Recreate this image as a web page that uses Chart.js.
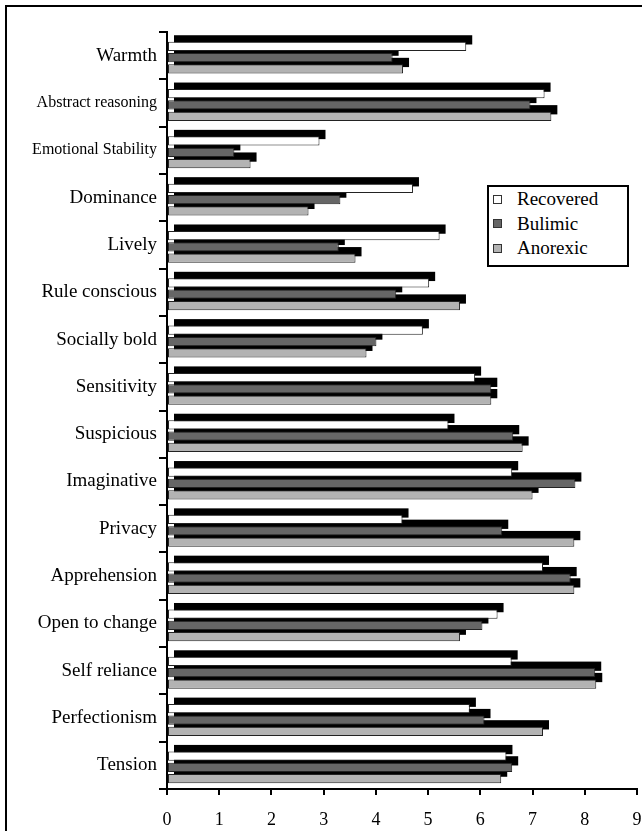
<!DOCTYPE html>
<html>
<head>
<meta charset="utf-8">
<script src="https://cdn.jsdelivr.net/npm/chart.js@4.4.1/dist/chart.umd.min.js"></script>
<style>
    html, body { margin: 0; padding: 0; background: #fff; overflow: hidden; }
    #wrap { position: relative; width: 642px; height: 831px; }
    #frame { position: absolute; left: 5px; top: 5px; width: 700px; height: 900px; border: 2px solid #000; box-sizing: border-box; }
    #traitChart { position: absolute; left: 0; top: 0; }
    #legend {
        position: absolute; left: 487px; top: 185px; width: 142px; height: 82px;
        box-sizing: border-box; border: 2px solid #000; background: #fff;
        font-family: "Liberation Serif", "Times New Roman", serif; font-size: 19px; color: #000;
    }
    #legend .row { height: 24.5px; line-height: 24.5px; display: flex; align-items: center; }
    #legend .box { width: 9px; height: 9px; box-sizing: border-box; border: 1px solid #333; margin-left: 4px; margin-right: 15px; }
</style>
</head>
<body>
<div id="wrap">
    <div id="frame"></div>
    <canvas id="traitChart" width="642" height="831"></canvas>
    <div id="legend"></div>
</div>
<script>
const traits = [
    "Warmth", "Abstract reasoning", "Emotional Stability", "Dominance", "Lively",
    "Rule conscious", "Socially bold", "Sensitivity", "Suspicious", "Imaginative",
    "Privacy", "Apprehension", "Open to change", "Self reliance", "Perfectionism", "Tension"
];

const recovered = [5.73, 7.23, 2.92, 4.71, 5.22, 5.02, 4.90, 5.90, 5.39, 6.61, 4.51, 7.20, 6.33, 6.60, 5.80, 6.50];
const bulimic   = [4.32, 6.96, 1.29, 3.32, 3.29, 4.39, 4.01, 6.21, 6.63, 7.82, 6.42, 7.73, 6.04, 8.20, 6.08, 6.61];
const anorexic  = [4.52, 7.36, 1.60, 2.71, 3.61, 5.61, 3.82, 6.21, 6.81, 7.00, 7.80, 7.80, 5.61, 8.22, 7.20, 6.40];

const xTicks = [0, 1, 2, 3, 4, 5, 6, 7, 8, 9];

const serif = "'Liberation Serif', 'Times New Roman', serif";

// black "depth" block behind every bar, taken from the bar elements themselves
const depthShadow = {
    id: 'depthShadow',
    beforeDatasetsDraw(chart) {
        chart.ctx.save();
        chart.ctx.translate(0, 2);
    },
    beforeDatasetDraw(chart, args) {
        const ctx = chart.ctx;
        ctx.save();
        ctx.fillStyle = '#000';
        args.meta.data.forEach(bar => {
            const p = bar.getProps(['x', 'y', 'base', 'height'], true);
            ctx.fillRect(p.base + 6, p.y - p.height / 2 - 6.5, p.x - p.base, p.height);
        });
        ctx.restore();
    },
    afterDatasetsDraw(chart) {
        chart.ctx.restore();
    }
};

const chart = new Chart(document.getElementById('traitChart'), {
    type: 'bar',
    data: {
        labels: traits,
        datasets: [
            { label: 'Recovered', data: recovered, backgroundColor: '#ffffff' },
            { label: 'Bulimic', data: bulimic, backgroundColor: '#666666' },
            { label: 'Anorexic', data: anorexic, backgroundColor: '#b3b3b3' }
        ]
    },
    options: {
        indexAxis: 'y',
        responsive: false,
        animation: false,
        layout: { padding: { left: 0, top: 32, right: 5, bottom: 0 } },
        datasets: {
            bar: {
                categoryPercentage: 0.716,
                barPercentage: 0.82,
                borderWidth: 1,
                borderColor: '#222',
                borderSkipped: false
            }
        },
        plugins: {
            legend: { display: false },
            tooltip: { enabled: false }
        },
        scales: {
            x: {
                min: 0,
                max: 9,
                afterBuildTicks: scale => { scale.ticks = xTicks.map(v => ({ value: v })); },
                afterFit: scale => { scale.height = 42; scale.paddingLeft = 0; scale.paddingRight = 0; },
                grid: { drawOnChartArea: false, tickLength: 6, color: '#000', lineWidth: 2 },
                border: { color: '#000', width: 2 },
                ticks: { color: '#000', padding: 14, font: { family: serif, size: 18 } }
            },
            y: {
                afterFit: scale => { scale.width = 167; scale.paddingTop = 0; scale.paddingBottom = 0; },
                grid: { offset: true, drawOnChartArea: false, tickLength: 8, color: '#000', lineWidth: 2 },
                border: { color: '#000', width: 2 },
                ticks: {
                    color: '#000',
                    padding: 2,
                    font: ctx => ({ family: serif, size: traits[ctx.index].length > 16 ? 16 : 19 })
                }
            }
        }
    },
    plugins: [depthShadow]
});

// legend box built from the datasets
const legendEl = document.getElementById('legend');
chart.data.datasets.forEach(ds => {
    const row = document.createElement('div');
    row.className = 'row';
    const box = document.createElement('span');
    box.className = 'box';
    box.style.background = ds.backgroundColor;
    const txt = document.createElement('span');
    txt.textContent = ds.label;
    row.appendChild(box);
    row.appendChild(txt);
    legendEl.appendChild(row);
});
</script>
</body>
</html>
